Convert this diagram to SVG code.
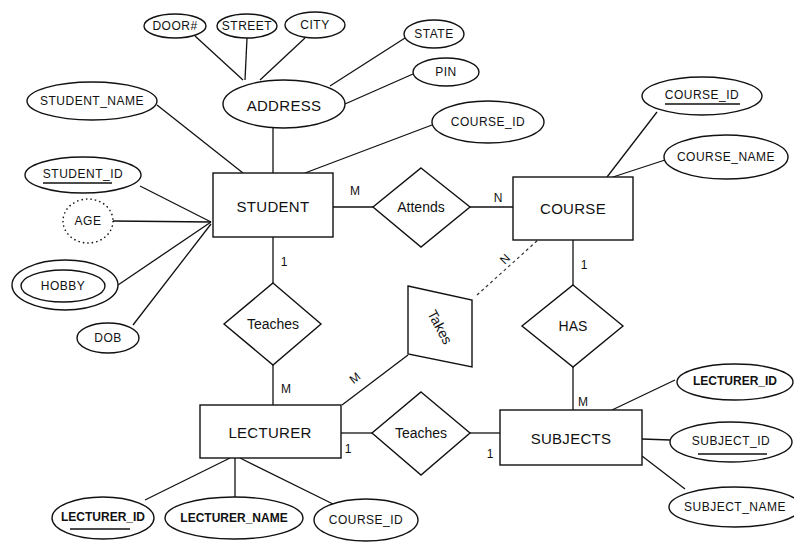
<svg xmlns="http://www.w3.org/2000/svg" width="794" height="542" viewBox="0 0 794 542">
<style>
.s{fill:none;stroke:#111;stroke-width:1.4}
.e{fill:#fff;stroke:#111;stroke-width:1.4}
.l{stroke:#111;stroke-width:1.3;fill:none}
.ld{stroke:#333;stroke-width:1.2;fill:none;stroke-dasharray:3 3}
text{font-family:"Liberation Sans",Arial,sans-serif;fill:#111;text-anchor:middle;dominant-baseline:central}
.a{font-size:12px;letter-spacing:0.5px}
.n{font-size:15px;letter-spacing:0.3px}
.r{font-size:14px}
.c{font-size:12px}
</style>
<rect width="794" height="542" fill="#fff"/>
<g id="connectors">
<line class="l" x1="195" y1="36" x2="243" y2="80"/>
<line class="l" x1="247" y1="38" x2="245" y2="80"/>
<line class="l" x1="305" y1="38" x2="260" y2="80"/>
<line class="l" x1="405" y1="38" x2="330" y2="86"/>
<line class="l" x1="413" y1="74" x2="345" y2="104"/>
<line class="l" x1="273" y1="128" x2="273" y2="173"/>
<line class="l" x1="157" y1="105" x2="243" y2="173"/>
<line class="l" x1="432" y1="125" x2="305" y2="173"/>
<line class="l" x1="140" y1="186" x2="211" y2="222"/>
<line class="l" x1="113" y1="221" x2="211" y2="222"/>
<line class="l" x1="118" y1="285" x2="211" y2="222"/>
<line class="l" x1="133" y1="325" x2="211" y2="224"/>
<line class="l" x1="333" y1="207" x2="373" y2="207"/>
<line class="l" x1="470" y1="207" x2="513" y2="207"/>
<line class="l" x1="657" y1="112" x2="607" y2="177"/>
<line class="l" x1="665" y1="160" x2="613" y2="177"/>
<line class="l" x1="273" y1="237" x2="273" y2="283"/>
<line class="l" x1="273" y1="365" x2="273" y2="405"/>
<line class="l" x1="573" y1="240" x2="573" y2="285"/>
<line class="l" x1="573" y1="367" x2="573" y2="410"/>
<line class="ld" x1="477" y1="295" x2="538" y2="240"/>
<line class="l" x1="408" y1="355" x2="342" y2="405"/>
<line class="l" x1="341" y1="433" x2="372" y2="433"/>
<line class="l" x1="470" y1="433" x2="500" y2="433"/>
<line class="l" x1="675" y1="380" x2="612" y2="410"/>
<line class="l" x1="642" y1="439" x2="670" y2="440"/>
<line class="l" x1="642" y1="456" x2="685" y2="489"/>
<line class="l" x1="230" y1="458" x2="145" y2="500"/>
<line class="l" x1="235" y1="458" x2="235" y2="497"/>
<line class="l" x1="240" y1="458" x2="333" y2="504"/>
<text class="c" x="355" y="191">M</text>
<text class="c" x="498" y="198">N</text>
<text class="c" x="284" y="262">1</text>
<text class="c" x="286" y="389">M</text>
<text class="c" x="584" y="265">1</text>
<text class="c" x="583" y="402">M</text>
<text class="c" x="348" y="449">1</text>
<text class="c" x="490" y="454">1</text>
<text class="c" x="505" y="259" transform="rotate(-45 505 259)">N</text>
<text class="c" x="355" y="378" transform="rotate(-38 355 378)">M</text>
</g>
<g id="student"><rect class="e" x="213" y="173" width="120" height="64"/><text class="n" x="273" y="206">STUDENT</text></g>
<g id="course"><rect class="e" x="513" y="177" width="120" height="63"/><text class="n" x="573" y="208">COURSE</text></g>
<g id="lecturer"><rect class="e" x="200" y="405" width="141" height="53"/><text class="n" x="270" y="432">LECTURER</text></g>
<g id="subjects"><rect class="e" x="500" y="410" width="142" height="55"/><text class="n" x="571" y="438">SUBJECTS</text></g>
<g id="attends"><polygon class="e" points="421,168 470,207 421,247 373,207"/><text class="r" x="421" y="207">Attends</text></g>
<g id="teaches1"><polygon class="e" points="273,283 321,324 273,365 224,324"/><text class="r" x="273" y="324">Teaches</text></g>
<g id="teaches2"><polygon class="e" points="421,392 470,433 421,475 372,433"/><text class="r" x="421" y="433">Teaches</text></g>
<g id="has"><polygon class="e" points="573,285 623,326 573,367 522,326"/><text class="r" x="573" y="326">HAS</text></g>
<g id="takes"><polygon class="e" points="408,286 472,300 472,367 408,354"/><text class="r" x="440" y="327" transform="rotate(62 440 327)">Takes</text></g>
<g id="door"><ellipse class="e" cx="175" cy="26" rx="31" ry="12"/><text class="a" x="175" y="26">DOOR#</text></g>
<g id="street"><ellipse class="e" cx="247" cy="26" rx="30" ry="12"/><text class="a" x="247" y="26">STREET</text></g>
<g id="city"><ellipse class="e" cx="315" cy="25" rx="30" ry="13"/><text class="a" x="315" y="25">CITY</text></g>
<g id="state"><ellipse class="e" cx="434" cy="34" rx="30" ry="14"/><text class="a" x="434" y="34">STATE</text></g>
<g id="pin"><ellipse class="e" cx="446" cy="72" rx="33" ry="14"/><text class="a" x="446" y="72">PIN</text></g>
<g id="address"><ellipse class="e" cx="284" cy="104" rx="61" ry="24"/><text class="n" x="284" y="105">ADDRESS</text></g>
<g id="student_name"><ellipse class="e" cx="92" cy="101" rx="65" ry="19"/><text class="a" x="92" y="101">STUDENT_NAME</text></g>
<g id="course_id_s"><ellipse class="e" cx="488" cy="122" rx="56" ry="21"/><text class="a" x="488" y="122">COURSE_ID</text></g>
<g id="course_id_c"><ellipse class="e" cx="702" cy="96" rx="60" ry="19"/><text class="a" x="702" y="95">COURSE_ID</text><line class="l" x1="665" y1="104" x2="740" y2="104"/></g>
<g id="course_name"><ellipse class="e" cx="726" cy="157" rx="62" ry="22"/><text class="a" x="726" y="157">COURSE_NAME</text></g>
<g id="student_id"><ellipse class="e" cx="83" cy="175" rx="58" ry="18"/><text class="a" x="83" y="174">STUDENT_ID</text><line class="l" x1="43" y1="183" x2="112" y2="183"/></g>
<g id="age"><ellipse class="s" cx="88" cy="221" rx="25" ry="22" style="stroke-dasharray:1.5 3"/><text class="a" x="88" y="221">AGE</text></g>
<g id="hobby"><ellipse class="e" cx="65" cy="285" rx="53" ry="25"/><ellipse class="s" cx="63" cy="286" rx="42" ry="16"/><text class="a" x="63" y="286">HOBBY</text></g>
<g id="dob"><ellipse class="e" cx="108" cy="338" rx="31" ry="15"/><text class="a" x="108" y="338">DOB</text></g>
<g id="lecturer_id_s"><ellipse class="e" cx="735" cy="382" rx="58" ry="18"/><text class="a" x="735" y="381" style="font-weight:bold;letter-spacing:0">LECTURER_ID</text></g>
<g id="subject_id"><ellipse class="e" cx="731" cy="442" rx="61" ry="20"/><text class="a" x="731" y="441">SUBJECT_ID</text><line class="l" x1="698" y1="454" x2="767" y2="454"/></g>
<g id="subject_name"><ellipse class="e" cx="735" cy="507" rx="66" ry="20"/><text class="a" x="735" y="507">SUBJECT_NAME</text></g>
<g id="lecturer_id_l"><ellipse class="e" cx="103" cy="518" rx="51" ry="21"/><text class="a" x="103" y="517" style="font-weight:bold;letter-spacing:0">LECTURER_ID</text><line class="l" x1="70" y1="529" x2="130" y2="529"/></g>
<g id="lecturer_name"><ellipse class="e" cx="234" cy="518" rx="69" ry="21"/><text class="a" x="234" y="518" style="font-weight:bold;letter-spacing:0">LECTURER_NAME</text></g>
<g id="course_id_l"><ellipse class="e" cx="366" cy="520" rx="52" ry="21"/><text class="a" x="366" y="520">COURSE_ID</text></g>
</svg>
